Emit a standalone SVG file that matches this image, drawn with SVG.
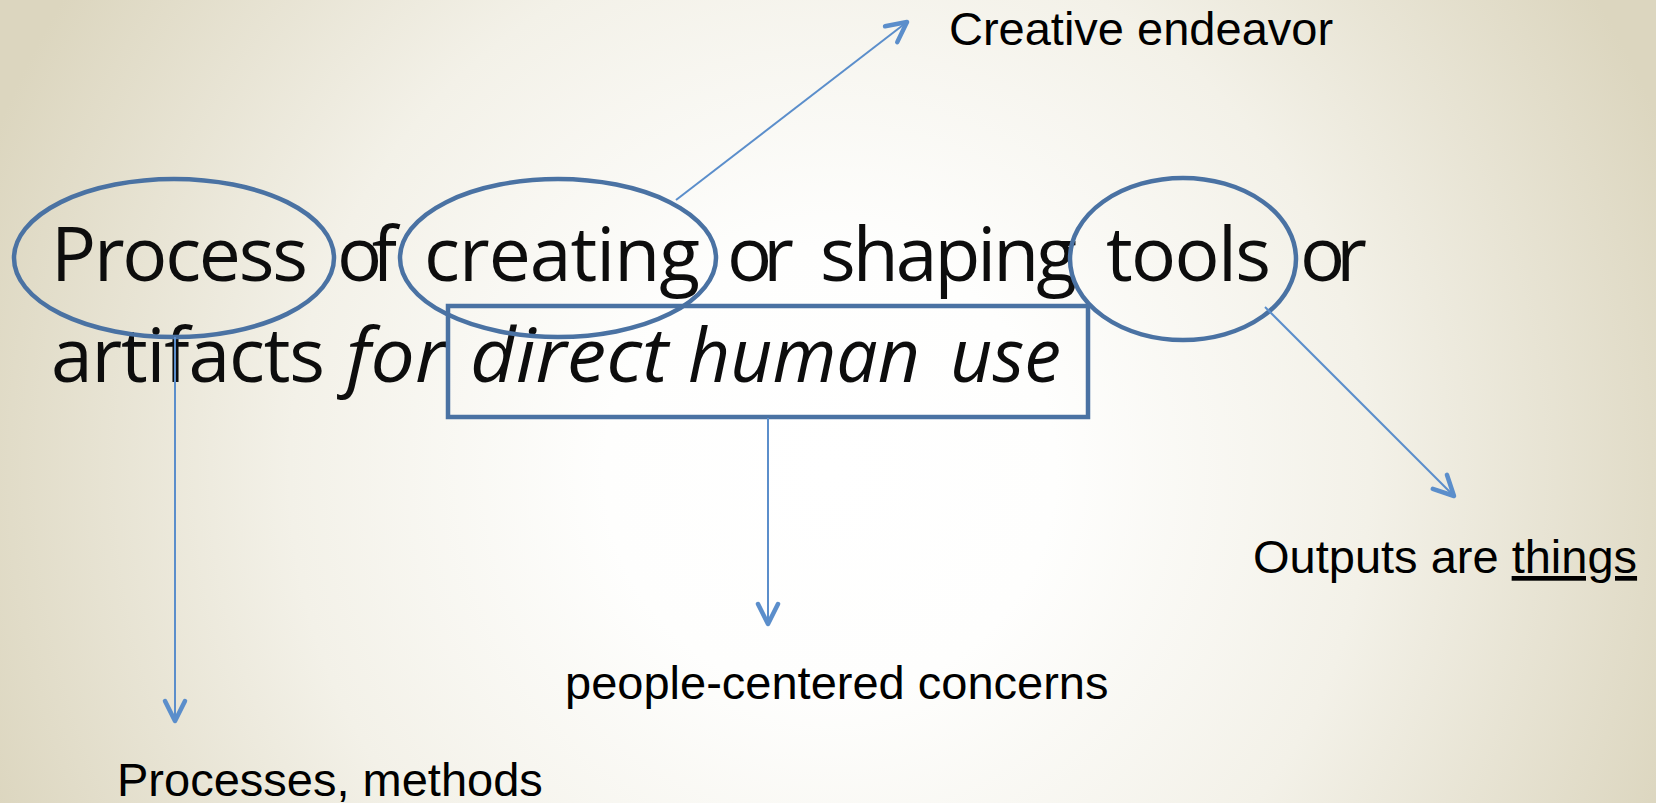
<svg xmlns="http://www.w3.org/2000/svg" width="1656" height="803" viewBox="0 0 1656 803">
  <style>
    .main { font-family: "Open Sans", "Noto Sans", "Liberation Sans", sans-serif; font-size: 75px; fill: #0d0d0d; }
    .it { font-style: italic; }
    .lbl { font-family: "Liberation Sans", Arial, sans-serif; font-size: 47px; fill: #000; }
    .ring { fill: none; stroke: #4a72a3; stroke-width: 4.5; }
    .conn { fill: none; stroke: #5b8ecb; stroke-width: 2; }
  </style>
  <defs>
    <radialGradient id="bg" gradientUnits="userSpaceOnUse" cx="830" cy="470" r="900">
      <stop offset="0" stop-color="#ffffff"/>
      <stop offset="0.25" stop-color="#fefefd"/>
      <stop offset="0.6" stop-color="#f3f1e8"/>
      <stop offset="1" stop-color="#dcd6bf"/>
    </radialGradient>
    <marker id="arr" markerUnits="userSpaceOnUse" orient="auto" overflow="visible" markerWidth="30" markerHeight="30" refX="0" refY="0">
      <path d="M-20,-10 L0,0 L-20,10" fill="none" stroke="#5b8ecb" stroke-width="4.5" stroke-linecap="round" stroke-linejoin="round"/>
    </marker>
  </defs>

  <rect x="0" y="0" width="1656" height="803" fill="url(#bg)"/>

  <g id="sentence">
    <text class="main" x="51" y="281" textLength="257">Process</text>
    <text class="main" x="337" y="281" textLength="60">of</text>
    <text class="main" x="424" y="281" textLength="276">creating</text>
    <text class="main" x="727" y="281" textLength="67">or</text>
    <text class="main" x="820" y="281" textLength="257">shaping</text>
    <text class="main" x="1106" y="281" textLength="165">tools</text>
    <text class="main" x="1300" y="281" textLength="67">or</text>
    <text class="main" x="51" y="382" textLength="274">artifacts</text>
    <text class="main it" x="346" y="382" textLength="100" lengthAdjust="spacingAndGlyphs">for</text>
    <text class="main it" x="470" y="382" textLength="198" lengthAdjust="spacingAndGlyphs">direct</text>
    <text class="main it" x="688" y="382" textLength="232" lengthAdjust="spacingAndGlyphs">human</text>
    <text class="main it" x="950" y="382" textLength="111" lengthAdjust="spacingAndGlyphs">use</text>
  </g>

  <g id="ring-process"><ellipse class="ring" cx="174" cy="258" rx="160" ry="79"/></g>
  <g id="ring-creating"><ellipse class="ring" cx="558" cy="258" rx="158" ry="79"/></g>
  <g id="ring-tools"><ellipse class="ring" cx="1183" cy="259" rx="113" ry="81"/></g>
  <g id="box-human-use"><rect class="ring" x="448" y="306" width="640" height="111"/></g>

  <g id="connectors">
    <line class="conn" x1="676" y1="200" x2="907" y2="22" marker-end="url(#arr)"/>
    <line class="conn" x1="1265" y1="307" x2="1454" y2="496" marker-end="url(#arr)"/>
    <line class="conn" x1="175" y1="337" x2="175" y2="721" marker-end="url(#arr)"/>
    <line class="conn" x1="768" y1="418" x2="768" y2="624" marker-end="url(#arr)"/>
  </g>

  <g id="label-creative"><text class="lbl" x="949" y="45">Creative endeavor</text></g>
  <g id="label-outputs">
    <text class="lbl" x="1253" y="573">Outputs are <tspan text-decoration="underline">things</tspan></text>
  </g>
  <g id="label-people"><text class="lbl" x="565" y="699">people-centered concerns</text></g>
  <g id="label-processes"><text class="lbl" x="117" y="796">Processes, methods</text></g>
</svg>
